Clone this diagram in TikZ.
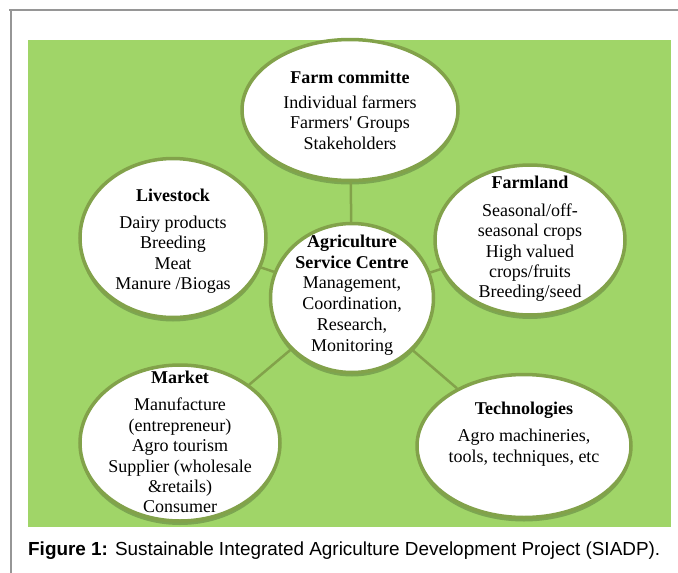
\documentclass[tikz,border=0pt]{standalone}
\usepackage{fontspec}
\setmainfont{Liberation Serif}
\newfontfamily\capfont{Liberation Sans}
\usetikzlibrary{shapes.geometric,shadows,positioning}

\definecolor{leaf}{RGB}{160,213,104}
\definecolor{rim}{RGB}{130,162,74}
\definecolor{framegray}{RGB}{150,150,150}

\begin{document}
\begin{tikzpicture}[
    x=1pt, y=-1pt,
    blob/.style={ellipse, draw=rim, line width=3.5pt, fill=white, inner sep=0pt,
        drop shadow={shadow xshift=0pt, shadow yshift=-4pt, opacity=.22, fill=black}},
    txt/.style={align=center, inner sep=0pt, font=\fontsize{18}{20.4}\selectfont},
    link/.style={draw=rim, line width=2.5pt}
]
\useasboundingbox (0,0) rectangle (678,573);

% page frame
\draw[framegray, line width=1.2pt] (9,10) -- (678,10);
\draw[framegray, line width=1.2pt] (11,10) -- (11,573);

% green panel
\fill[leaf] (28,40) rectangle (671,527);

% hub
\node[blob, minimum width=163pt, minimum height=149pt] (centre) at (352,298) {};
\node[txt, font=\fontsize{18}{20.8}\selectfont] (centretxt) at ([yshift=3pt]centre.center)
    {\textbf{Agriculture}\\ \textbf{Service Centre}\\ Management,\\ Coordination,\\ Research,\\ Monitoring};

% surrounding areas
\node[blob, minimum width=216pt, minimum height=141pt] (farm) at (350,110) {};
\node[txt] (farmtxt) at (farm.center)
    {\textbf{Farm committe}\\[5pt] Individual farmers\\ Farmers\textquotesingle{} Groups\\ Stakeholders};

\node[blob, minimum width=186pt, minimum height=159pt] (stock) at (173,238) {};
\node[txt] (stocktxt) at ([yshift=-3pt]stock.center)
    {\textbf{Livestock}\\[7pt] Dairy products\\ Breeding\\ Meat\\ Manure /Biogas};

\node[blob, minimum width=190pt, minimum height=150pt] (land) at (530,240) {};
\node[txt] (landtxt) at ([yshift=1pt]land.center)
    {\textbf{Farmland}\\[7pt] Seasonal/off-\\ seasonal crops\\ High valued\\ crops/fruits\\ Breeding/seed};

\node[blob, minimum width=200pt, minimum height=156pt] (market) at (180,443) {};
\node[txt] (markettxt) at ([yshift=1pt]market.center)
    {\textbf{Market}\\[7pt] Manufacture\\ (entrepreneur)\\ Agro tourism\\ Supplier (wholesale\\ \&retails)\\ Consumer};

\node[blob, minimum width=214pt, minimum height=143pt] (tech) at (524,446) {};
\node[txt] (techtxt) at ([yshift=12pt]tech.center)
    {\textbf{Technologies}\\[7pt] Agro machineries,\\ tools, techniques, etc};

% links to the hub
\draw[link] (centre) -- (farm);
\draw[link] (centre) -- (stock);
\draw[link] (centre) -- (land);
\draw[link] (centre) -- (market);
\draw[link] (centre) -- (tech);

% caption
\node[anchor=base west, inner sep=0pt, font=\capfont\fontsize{18.9}{22}\selectfont] (caption) at (28,555)
    {\textbf{Figure 1:} Sustainable Integrated Agriculture Development Project (SIADP).};
\end{tikzpicture}
\end{document}
